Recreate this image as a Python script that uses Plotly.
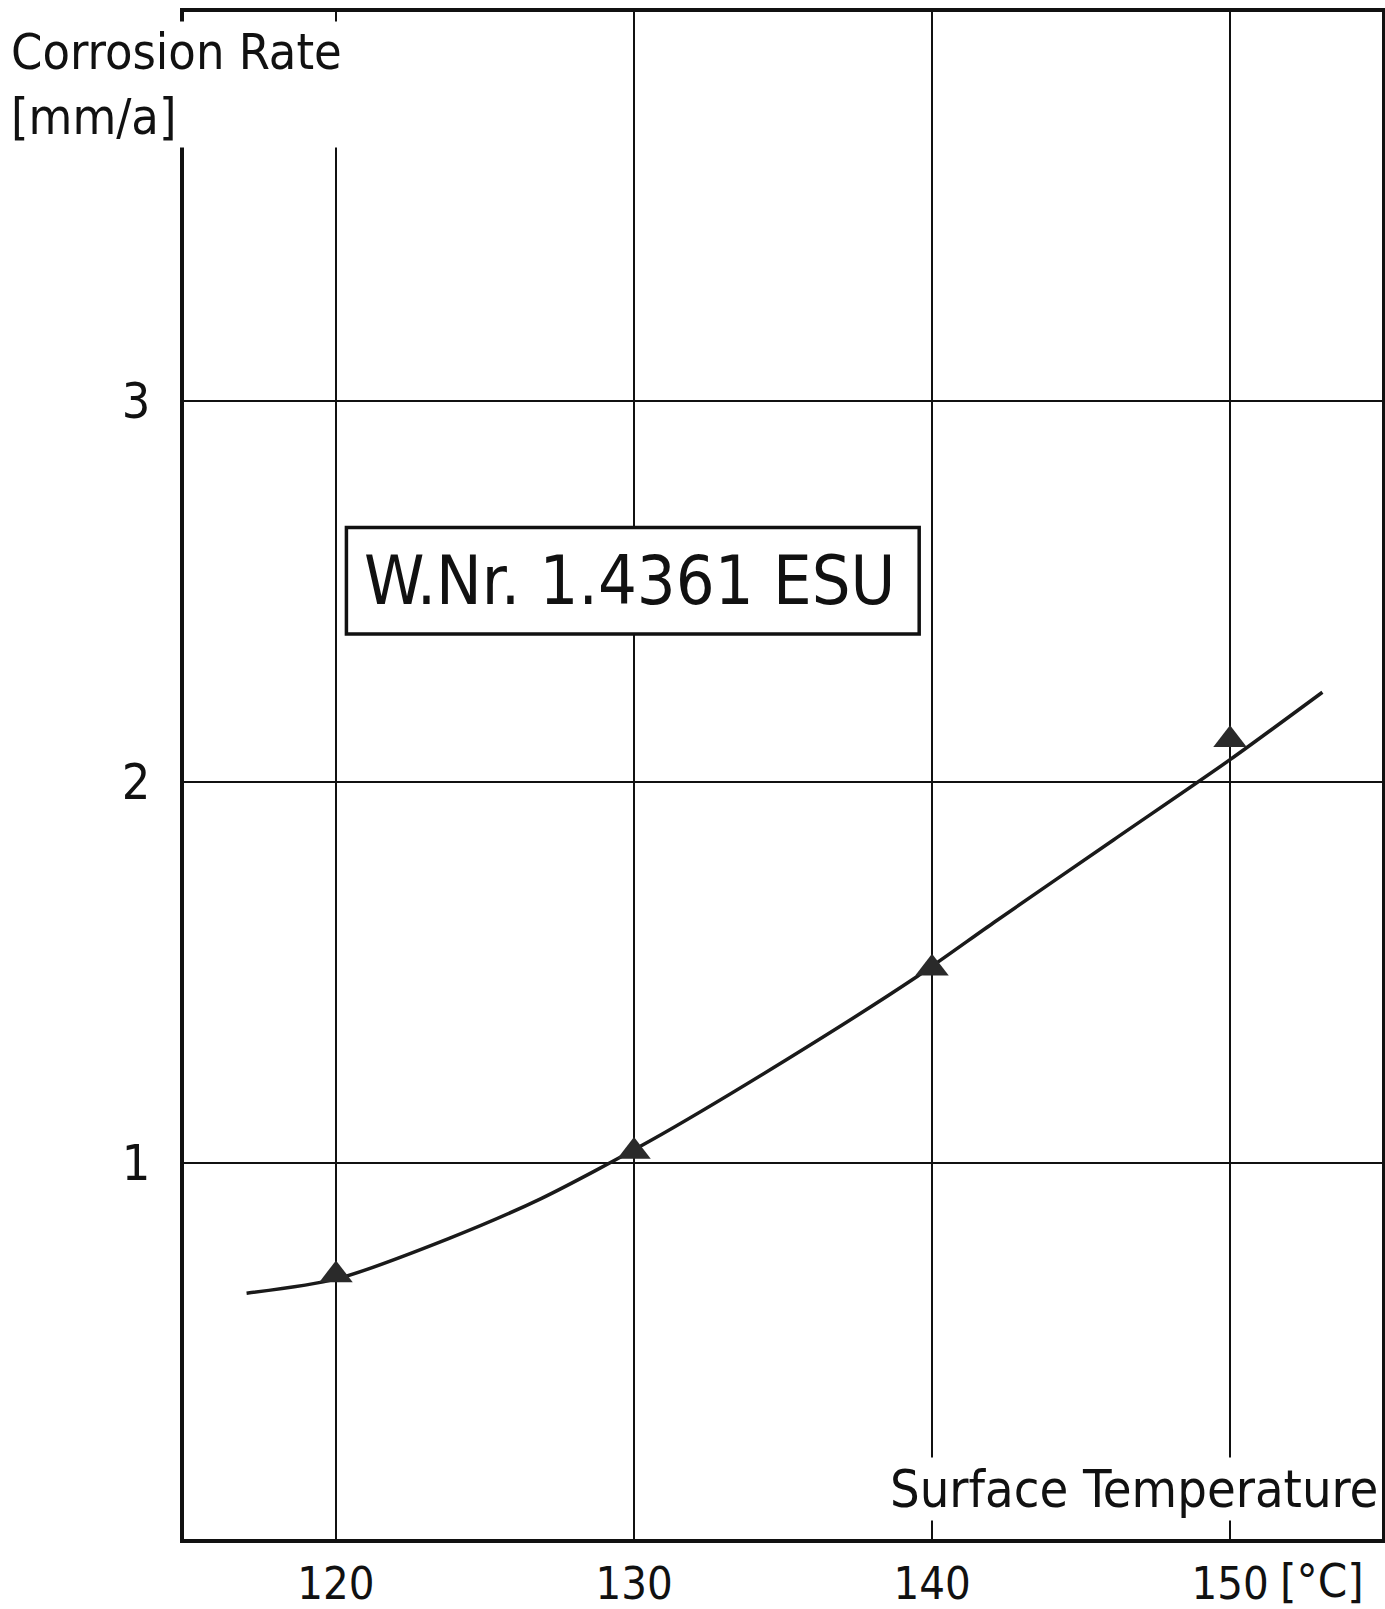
import plotly.graph_objects as go

# ---- data ----
temp_measured = [120, 130, 140, 150]
rate_measured = [0.706, 1.03, 1.511, 2.11]

curve_temp = [117.0, 120.0, 123.8, 126.9, 130.5, 135.1, 139.5, 142.1, 146.1, 150.0, 153.1]
curve_rate = [0.658, 0.695, 0.802, 0.907, 1.056, 1.270, 1.489, 1.632, 1.848, 2.058, 2.235]

x_ticks = [120, 130, 140, 150]
x_tick_labels = ["120", "130", "140", "150"]
y_ticks = [1, 2, 3]
y_tick_labels = ["1", "2", "3"]

FONT = "DejaVu Sans Condensed, DejaVu Sans, sans-serif"
INK = "#111111"

fig = go.Figure()

fig.add_trace(go.Scatter(
    x=curve_temp, y=curve_rate, mode="lines",
    line=dict(color="#1a1a1a", width=3.5, shape="spline", smoothing=0.7),
    hoverinfo="skip", showlegend=False))

fig.add_trace(go.Scatter(
    x=temp_measured, y=rate_measured, mode="markers",
    marker=dict(symbol="triangle-up", size=29, color="#2a2a2a",
                line=dict(width=0)),
    showlegend=False))

# label box
fig.add_shape(type="rect", xref="x", yref="y",
              x0=120.35, x1=139.57, y0=2.388, y1=2.667,
              line=dict(color=INK, width=3.5), fillcolor="white", layer="above")
fig.add_annotation(x=129.85, y=2.528, xref="x", yref="y",
                   text="W.Nr. 1.4361 ESU", showarrow=False,
                   font=dict(family=FONT, size=68, color=INK))

# axis titles
fig.add_annotation(xref="paper", yref="paper", x=-0.146, y=0.994, yanchor="top",
                   xanchor="left", align="left", bgcolor="white",
                   text="Corrosion Rate<br>[mm/a]", showarrow=False,
                   font=dict(family=FONT, size=50, color=INK))
fig.add_annotation(xref="paper", yref="paper", x=0.9985, y=0.012,
                   xanchor="right", yanchor="bottom", bgcolor="white",
                   text="Surface Temperature", showarrow=False,
                   font=dict(family=FONT, size=52, color=INK))
fig.add_annotation(xref="x", yref="paper", x=151.6, y=-0.0275,
                   yanchor="middle", xanchor="left",
                   text="[°C]", showarrow=False,
                   font=dict(family=FONT, size=47, color=INK))

fig.update_xaxes(range=[114.9, 155.1], tickvals=x_ticks, ticktext=x_tick_labels,
                 showgrid=True, gridcolor=INK, gridwidth=1.8,
                 showline=True, linecolor=INK, linewidth=3.5, mirror=True,
                 ticks="", ticklen=0, ticklabelstandoff=2, zeroline=False,
                 automargin=False,
                 tickfont=dict(family=FONT, size=45, color=INK))
fig.update_yaxes(range=[0.013, 4.02], tickvals=y_ticks, ticktext=y_tick_labels,
                 showgrid=True, gridcolor=INK, gridwidth=1.8,
                 showline=True, linecolor=INK, linewidth=3.5, mirror=True,
                 ticks="", ticklabelstandoff=20, zeroline=False, automargin=False,
                 tickfont=dict(family=FONT, size=50, color=INK))

fig.update_layout(width=1385, height=1609,
                  margin=dict(l=184, r=3, t=12, b=70),
                  paper_bgcolor="white", plot_bgcolor="white",
                  font=dict(family=FONT, color=INK))

fig.write_html("out.html", config={"displayModeBar": False},
               post_script="document.body.style.margin='0';"
                           "document.body.style.overflow='hidden';")
